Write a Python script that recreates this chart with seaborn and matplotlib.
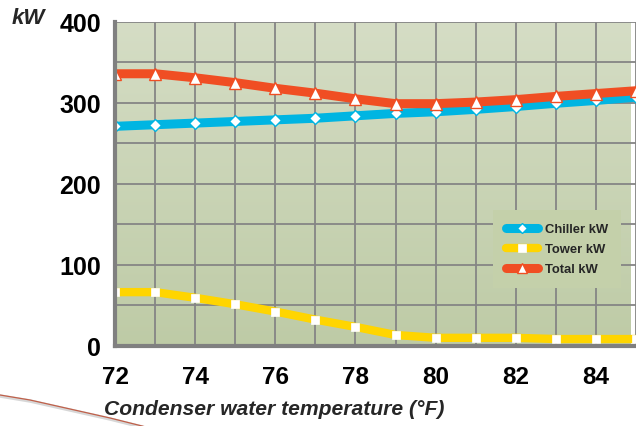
import numpy as np
import pandas as pd
import matplotlib
matplotlib.use("Agg")
import matplotlib.pyplot as plt
import seaborn as sns
from matplotlib.lines import Line2D
from matplotlib.colors import LinearSegmentedColormap

# ---- data ----
temps = [72, 73, 74, 75, 76, 77, 78, 79, 80, 81, 82, 83, 84, 85]
chiller_kw = [271, 273, 275, 277, 279, 281, 284, 287, 289, 292, 295.5, 299.5, 303, 307]
tower_kw = [66, 66, 59, 51, 42, 32, 23, 13, 9.5, 9.5, 9.5, 8, 8, 8]
total_kw = [336, 336, 331, 325, 318, 312, 305, 299, 299, 301, 304, 308, 311.5, 315]
series_names = ["Chiller kW", "Tower kW", "Total kW"]
x_ticks = [72, 74, 76, 78, 80, 82, 84]
y_ticks = [0, 100, 200, 300, 400]

df = pd.DataFrame({"temp": temps, "Chiller kW": chiller_kw,
                   "Tower kW": tower_kw, "Total kW": total_kw})

sns.set_theme(style="white")
plt.rcParams["font.family"] = ["Liberation Sans", "DejaVu Sans"]

W, H = 636, 427
fig = plt.figure(figsize=(W / 100, H / 100), dpi=100)
left_px, right_px, top_px, bot_px = 115, 636, 23, 346.5
ax = fig.add_axes([left_px / W, 1 - bot_px / H, (right_px - left_px) / W, (bot_px - top_px) / H])

xmax = 72 + (right_px - left_px) / 40.5
ax.set_xlim(72, xmax)
ax.set_ylim(0, 400)

# gradient background
cmap = LinearSegmentedColormap.from_list("bg", ["#becba6", "#d5ddc5"])
grad = np.linspace(0, 1, 256).reshape(-1, 1)
ax.imshow(grad, extent=[72, xmax, 0, 400], origin="lower", aspect="auto",
          cmap=cmap, zorder=0)

sns.lineplot(data=df, x="temp", y="Tower kW", ax=ax, color="#ffd500", linewidth=6,
             marker="s", markersize=6, markerfacecolor="white", markeredgecolor="white",
             markeredgewidth=0.5, label="Tower kW", zorder=3)
sns.lineplot(data=df, x="temp", y="Chiller kW", ax=ax, color="#00b5e2", linewidth=6.5,
             marker="D", markersize=6.5, markerfacecolor="white", markeredgecolor="#00b5e2",
             markeredgewidth=1, label="Chiller kW", zorder=4)
sns.lineplot(data=df, x="temp", y="Total kW", ax=ax, color="#f04e23", linewidth=6.5,
             marker="^", markersize=9, markerfacecolor="white", markeredgecolor="#f04e23",
             markeredgewidth=1, label="Total kW", zorder=5)

# ticks & grid
ax.set_xticks(x_ticks)
ax.set_xticks(np.arange(72, 86, 1), minor=True)
ax.set_yticks(y_ticks)
ax.set_yticks(np.arange(0, 401, 50), minor=True)
ax.grid(True, which="both", color="#858585", linewidth=1.3, zorder=1)
ax.set_axisbelow(True)
ax.set_xticklabels([str(t) for t in x_ticks], fontsize=17.5, fontweight="bold")
ax.set_yticklabels([str(t) for t in y_ticks], fontsize=18, fontweight="bold")
ax.tick_params(axis="x", which="both", length=0, pad=14, colors="black")
ax.tick_params(axis="y", which="both", length=0, pad=10, colors="black")
ax.set_xlabel("")
ax.set_ylabel("")

for s in ["top", "right"]:
    ax.spines[s].set_visible(False)
for s in ["left", "bottom"]:
    ax.spines[s].set_color("#808080")
    ax.spines[s].set_linewidth(3)
    ax.spines[s].set_zorder(6)

fig.text(12 / W, 1 - 18 / H, "kW", fontsize=16, fontweight="bold", style="italic",
         ha="left", va="center")
fig.text(104 / W, 1 - 410 / H, "Condenser water temperature (°F)", fontsize=15.2,
         fontweight="bold", style="italic", ha="left", va="center")

# legend
handles, labels = ax.get_legend_handles_labels()
order = [labels.index(n) for n in series_names]
leg = ax.legend([handles[i] for i in order], [labels[i] for i in order],
                loc="upper right", bbox_to_anchor=(621 / W, 1 - 211 / H),
                bbox_transform=fig.transFigure, borderaxespad=0,
                frameon=True, facecolor="#c4d0aa", edgecolor="none", fancybox=False,
                framealpha=1, prop={"weight": "bold", "size": 9.4},
                handlelength=2.4, handletextpad=0.55, labelspacing=0.6,
                borderpad=1.0, markerscale=0.85)
leg.set_zorder(7)

# decorative swoosh at bottom-left
fig.add_artist(Line2D([0, 30 / W, 70 / W, 110 / W, 150 / W],
                      [1 - 397 / H, 1 - 402 / H, 1 - 411 / H, 1 - 420 / H, 1 - 430 / H],
                      transform=fig.transFigure, color="#b0b0b0", linewidth=2.5, alpha=0.5))
fig.add_artist(Line2D([0, 30 / W, 70 / W, 110 / W, 150 / W],
                      [1 - 396 / H, 1 - 401 / H, 1 - 410 / H, 1 - 419 / H, 1 - 429 / H],
                      transform=fig.transFigure, color="#c0604a", linewidth=0.9))

fig.savefig("out.png", dpi=100)
